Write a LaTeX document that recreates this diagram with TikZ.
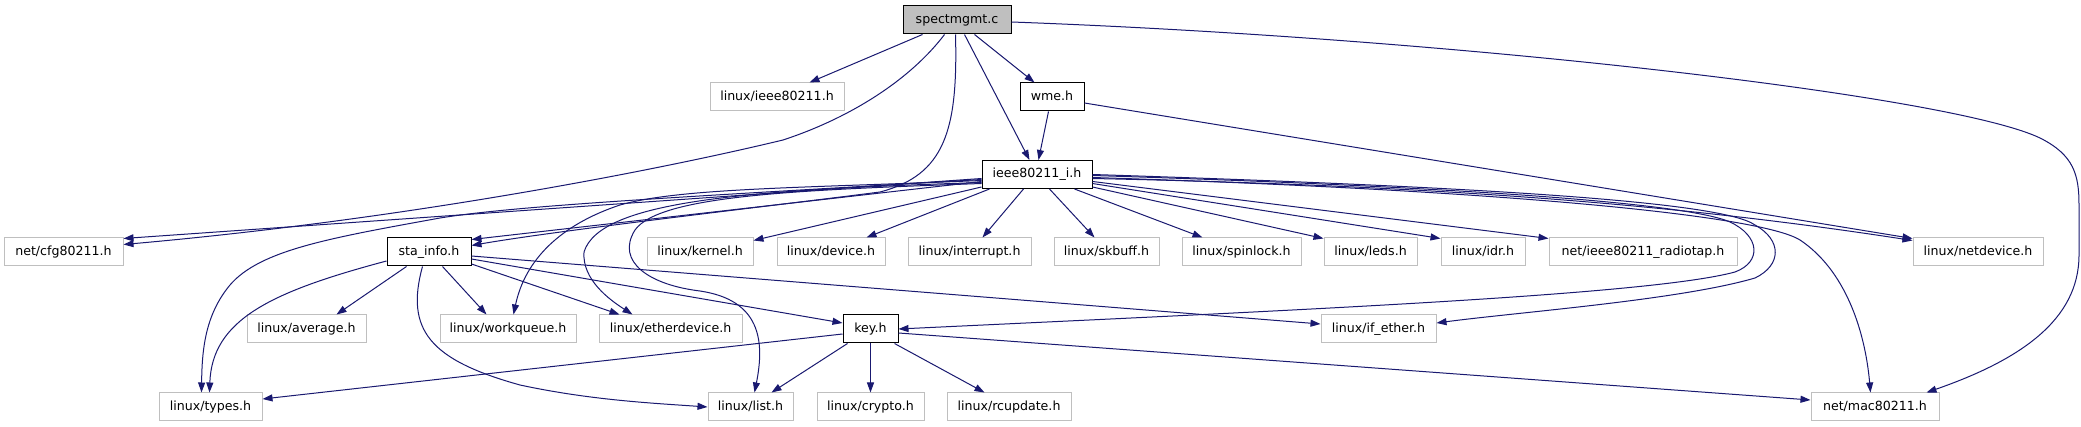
\documentclass[tikz,border=0pt]{standalone}
\usepackage{fontspec}
\setmainfont{DejaVu Sans}
\usetikzlibrary{arrows.meta,calc}
\definecolor{edgeblue}{RGB}{25,25,112}
\definecolor{boxgray}{RGB}{191,191,191}
\begin{document}
\begin{tikzpicture}[x=1pt,y=-1pt,
  file/.style={draw=boxgray, line width=1pt, fill=white, minimum height=28pt, inner sep=0pt,
    text height=9.4pt, text depth=3pt, font=\fontsize{12.6}{15}\selectfont},
  local/.style={file, draw=black},
  mainfile/.style={file, draw=black, fill=boxgray},
  dep/.style={draw=edgeblue, line width=1pt, -{Triangle[length=10pt,width=7pt]}}]
\useasboundingbox (0,0) rectangle (2081,427);
\fill[white] (0,0) rectangle (2081,427);

% nodes
\node[mainfile, minimum width=108pt] (spec) at (957,20) {spectmgmt.c};
\node[file, minimum width=134pt] (lieee) at (777,97) {linux/ieee80211.h};
\node[local, minimum width=64pt] (wme) at (1052,97) {wme.h};
\node[local, minimum width=110pt] (ii) at (1037,174.5) {ieee80211\_i.h};
\node[file, minimum width=119pt] (cfg) at (63.5,252) {net/cfg80211.h};
\node[local, minimum width=84pt] (sta) at (429,252) {sta\_info.h};
\node[file, minimum width=106pt] (kernel) at (700,252) {linux/kernel.h};
\node[file, minimum width=108pt] (device) at (831,252) {linux/device.h};
\node[file, minimum width=123pt] (interrupt) at (969.5,252) {linux/interrupt.h};
\node[file, minimum width=105pt] (skbuff) at (1106.5,252) {linux/skbuff.h};
\node[file, minimum width=119pt] (spinlock) at (1241.5,252) {linux/spinlock.h};
\node[file, minimum width=93pt] (leds) at (1370.5,252) {linux/leds.h};
\node[file, minimum width=84pt] (idr) at (1483,252) {linux/idr.h};
\node[file, minimum width=188pt] (radiotap) at (1643,252) {net/ieee80211\_radiotap.h};
\node[file, minimum width=130pt] (netdev) at (1978,252) {linux/netdevice.h};
\node[file, minimum width=119pt] (average) at (306.5,329) {linux/average.h};
\node[file, minimum width=136pt] (workq) at (508,329) {linux/workqueue.h};
\node[file, minimum width=143pt] (ether) at (670.5,329) {linux/etherdevice.h};
\node[local, minimum width=55pt] (key) at (870.5,329) {key.h};
\node[file, minimum width=115pt] (ifether) at (1378.5,329) {linux/if\_ether.h};
\node[file, minimum width=103pt] (types) at (210.5,407) {linux/types.h};
\node[file, minimum width=85pt] (list) at (750.5,407) {linux/list.h};
\node[file, minimum width=107pt] (crypto) at (870.5,407) {linux/crypto.h};
\node[file, minimum width=124pt] (rcu) at (1009,407) {linux/rcupdate.h};
\node[file, minimum width=128pt] (mac) at (1875,407) {net/mac80211.h};

% spectmgmt.c
\draw[dep] ($(spec.south west)+(20,0)$) -- ($(lieee.north west)+(100,0)$);
\draw[dep] ($(spec.south west)+(72,0)$) -- ($(wme.north west)+(15,0)$);
\draw[dep] ($(spec.south west)+(62,0)$) -- ($(ii.north west)+(48,0)$);
\draw[dep] ($(spec.south west)+(42,0)$) .. controls (910,80) and (850,118) .. (783,140)
  .. controls (650,172) and (400,220) .. ($(cfg.north east)+(0,7)$);
\draw[dep] ($(spec.south west)+(53,0)$) .. controls (958,130) and (945,175) .. (880,192)
  .. controls (780,205) and (560,230) .. ($(sta.north east)+(0,8)$);
\draw[dep] ($(spec.east)+(0,2)$) .. controls (1450,38) and (1950,95) .. (2040,138)
  .. controls (2074,155) and (2079,175) .. (2079,205) -- (2079,255)
  .. controls (2079,320) and (2020,360) .. ($(mac.north west)+(116,0)$);

% wme.h
\draw[dep] ($(wme.south west)+(29,0)$) -- ($(ii.north west)+(57,0)$);
\draw[dep] ($(wme.east)+(0,6)$) -- ($(netdev.north west)+(0,1)$);

% ieee80211_i.h
\draw[dep] ($(ii.west)+(0,4)$) -- ($(cfg.north east)+(0,1)$);
\draw[dep] ($(ii.west)+(0,5)$) .. controls (700,196) and (520,205) .. (440,218)
  .. controls (330,238) and (260,250) .. (230,285)
  .. controls (205,315) and (202,350) .. ($(types.north west)+(43,0)$);
\draw[dep] ($(ii.west)+(0,7)$) -- ($(sta.north east)+(0,2)$);
\draw[dep] ($(ii.west)+(0,6)$) .. controls (800,188) and (680,188) .. (620,205)
  .. controls (560,225) and (525,260) .. ($(workq.north west)+(74,0)$);
\draw[dep] ($(ii.west)+(0,8)$) .. controls (750,190) and (600,200) .. (584,252)
  .. controls (582,280) and (610,300) .. ($(ether.north west)+(34,0)$);
\draw[dep] ($(ii.west)+(0,9)$) .. controls (800,190) and (660,195) .. (635,230)
  .. controls (615,262) and (650,285) .. (700,291)
  .. controls (760,300) and (765,340) .. ($(list.north west)+(47,0)$);
\draw[dep] ($(ii.south west)+(0,-2)$) -- ($(kernel.north east)+(0,3)$);
\draw[dep] ($(ii.south west)+(8,0)$) -- ($(device.north west)+(90,0)$);
\draw[dep] ($(ii.south west)+(42,0)$) -- ($(interrupt.north west)+(75,0)$);
\draw[dep] ($(ii.south west)+(68,0)$) -- ($(skbuff.north west)+(41,0)$);
\draw[dep] ($(ii.south west)+(93,0)$) -- ($(spinlock.north west)+(21,0)$);
\draw[dep] ($(ii.south east)+(0,-2)$) -- ($(leds.north west)+(0,1)$);
\draw[dep] ($(ii.east)+(0,9)$) -- ($(idr.north west)+(0,1)$);
\draw[dep] ($(ii.east)+(0,7)$) -- ($(radiotap.north west)+(0,1)$);
\draw[dep] ($(ii.east)+(0,4)$) .. controls (1400,185) and (1650,200) .. ($(netdev.north west)+(0,3)$);
\draw[dep] ($(ii.east)+(0,3)$) .. controls (1500,190) and (1760,215) .. (1800,240)
  .. controls (1845,270) and (1865,330) .. ($(mac.north west)+(60,0)$);
\draw[dep] ($(ii.east)+(0,1)$) .. controls (1400,185) and (1680,200) .. (1730,222)
  .. controls (1760,236) and (1762,262) .. (1735,272)
  .. controls (1650,295) and (1300,310) .. (key.east);
\draw[dep] (ii.east) .. controls (1450,186) and (1720,200) .. (1755,225)
  .. controls (1782,240) and (1782,265) .. (1755,278)
  .. controls (1680,300) and (1520,312) .. ($(ifether.east)+(0,-6)$);

% sta_info.h
\draw[dep] ($(sta.west)+(0,9)$) .. controls (270,292) and (212,320) .. ($(types.north west)+(51,0)$);
\draw[dep] ($(sta.south west)+(20,0)$) -- ($(average.north west)+(90,0)$);
\draw[dep] ($(sta.south west)+(56,0)$) -- ($(workq.north west)+(47,0)$);
\draw[dep] ($(sta.east)+(0,12)$) -- ($(ether.north west)+(21,0)$);
\draw[dep] ($(sta.east)+(0,7)$) -- ($(key.west)+(0,-6)$);
\draw[dep] ($(sta.east)+(0,4)$) -- ($(ifether.west)+(0,-5)$);
\draw[dep] ($(sta.south west)+(36,0)$) .. controls (405,330) and (430,360) .. (520,385)
  .. controls (590,400) and (650,403) .. (list.west);

% key.h
\draw[dep] ($(key.south west)+(5,0)$) -- ($(list.north west)+(64,0)$);
\draw[dep] (key.south) -- (crypto.north);
\draw[dep] ($(key.south east)+(-4,0)$) -- ($(rcu.north west)+(38,0)$);
\draw[dep] ($(key.west)+(0,5)$) -- ($(types.east)+(0,-8)$);
\draw[dep] ($(key.east)+(0,4)$) -- ($(mac.west)+(0,-7)$);
\end{tikzpicture}
\end{document}
